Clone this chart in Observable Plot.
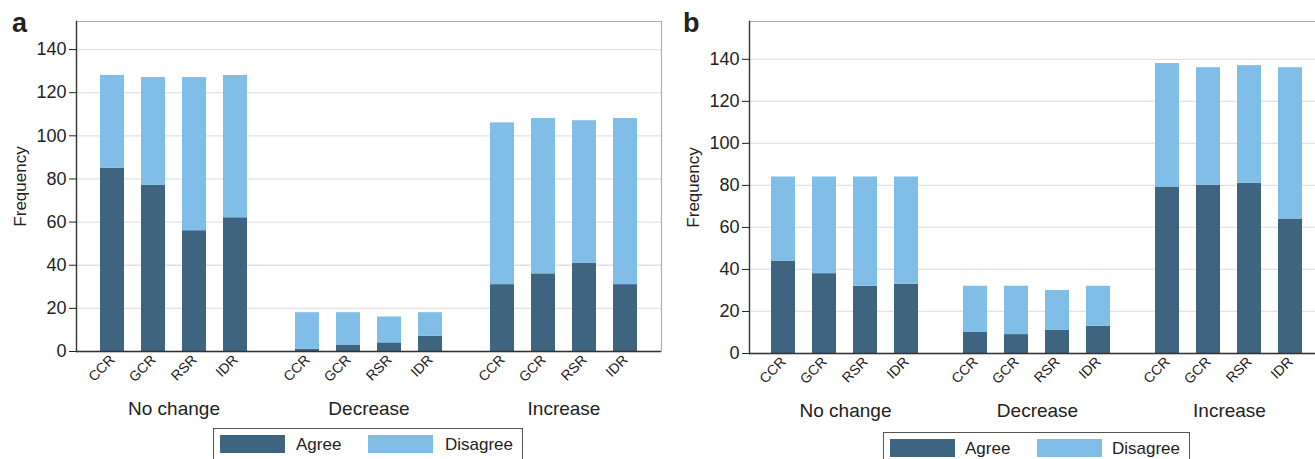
<!DOCTYPE html>
<html><head><meta charset="utf-8">
<script src="https://cdn.jsdelivr.net/npm/d3@7"></script>
<script src="https://cdn.jsdelivr.net/npm/@observablehq/plot@0.6"></script>
<style>
body{margin:0;width:1315px;height:459px;overflow:hidden;background:#fff;font-family:Arial,"Liberation Sans",sans-serif;color:#222;position:relative}
.panel{position:absolute;top:0}
.panel svg{max-width:none !important}
.tag{position:absolute;font-weight:bold;font-size:27px;line-height:1}
.legend{position:absolute;border:1px solid #555;height:40px;box-sizing:border-box;background:#fff}
.sw{position:absolute;height:18px;width:65px;top:6px}
.lt{position:absolute;font-size:17px;line-height:1;top:7px}
</style></head><body>
<div id="a" class="panel" style="left:0;width:672px"></div>
<div id="b" class="panel" style="left:672px;width:664px"></div>
<div class="tag" style="left:12px;top:10px">a</div>
<div class="tag" style="left:683px;top:10px">b</div>
<div id="legA" class="legend" style="left:213px;top:428px;width:310px"></div>
<div id="legB" class="legend" style="left:883px;top:432px;width:307px"></div>
<script>
const groups = ["No change", "Decrease", "Increase"];
const measures = ["CCR", "GCR", "RSR", "IDR"];
const responses = ["Agree", "Disagree"];
const colors = ["#3e6480", "#80bee8"];
const yTicks = [0, 20, 40, 60, 80, 100, 120, 140];

// panel a
const agreeA    = [[85, 77, 56, 62], [1, 3, 4, 7],   [31, 36, 41, 31]];
const disagreeA = [[43, 50, 71, 66], [17, 15, 12, 11], [75, 72, 66, 77]];
// panel b
const agreeB    = [[44, 38, 32, 33], [10, 9, 11, 13], [79, 80, 81, 64]];
const disagreeB = [[40, 46, 52, 51], [22, 23, 19, 19], [59, 56, 56, 72]];

function rows(agree, disagree) {
  const out = [];
  groups.forEach((g, i) => measures.forEach((m, j) => {
    out.push({group: g, measure: m, response: responses[0], value: agree[i][j]});
    out.push({group: g, measure: m, response: responses[1], value: disagree[i][j]});
  }));
  return out;
}

function chart({data, width, height, marginLeft, yMax, xOuter}) {
  return Plot.plot({
    width, height, marginLeft, marginRight: 10, marginTop: 21, marginBottom: 74,
    style: {fontFamily: 'Arial, "Liberation Sans", sans-serif', color: "#222", background: "transparent", overflow: "visible"},
    fx: {domain: groups, paddingInner: 0, paddingOuter: 0},
    x: {domain: measures, paddingInner: 0.41, paddingOuter: xOuter},
    y: {domain: [0, yMax]},
    color: {domain: responses, range: colors},
    marks: [
      Plot.gridY(yTicks, {stroke: "#e2e2e2", strokeOpacity: 1, strokeWidth: 1.3}),
      Plot.ruleY([yMax], {stroke: "#b0b0b0", strokeWidth: 1.2}),
      Plot.barY(data, Plot.stackY({fx: "group", x: "measure", y: "value", fill: "response"})),
      Plot.ruleY([0], {stroke: "#333", strokeWidth: 1.4}),
      Plot.frame({anchor: "left", facet: "super", stroke: "#333", strokeWidth: 1.4}),
      Plot.frame({anchor: "right", facet: "super", stroke: "#b0b0b0", strokeWidth: 1.2}),
      Plot.axisY(yTicks, {anchor: "left", tickSize: 7, tickPadding: 3, fontSize: 18, label: null}),
      Plot.text(["Frequency"], {frameAnchor: "left", textAnchor: "middle", rotate: -90, dx: -56, fontSize: 17, facet: "super"}),
      Plot.axisX({tickRotate: -45, tickSize: 0, tickPadding: 6, fontSize: 14, label: null}),
      Plot.axisFx({anchor: "bottom", tickSize: 0, tickPadding: 50, fontSize: 19, label: null})
    ]
  });
}

document.getElementById("a").append(chart({data: rows(agreeA, disagreeA), width: 672, height: 425, marginLeft: 75, yMax: 153, xOuter: 0.55}));
document.getElementById("b").append(chart({data: rows(agreeB, disagreeB), width: 664, height: 427, marginLeft: 76, yMax: 158, xOuter: 0.52}));

function legend(id, swLeft, txtLeft) {
  const el = document.getElementById(id);
  responses.forEach((r, i) => {
    const sw = document.createElement("div");
    sw.className = "sw"; sw.style.left = swLeft[i] + "px"; sw.style.background = colors[i];
    const t = document.createElement("div");
    t.className = "lt"; t.style.left = txtLeft[i] + "px"; t.textContent = r;
    el.append(sw, t);
  });
}
legend("legA", [6, 154], [82, 231]);
legend("legB", [6, 153], [81, 228]);
</script>
</body></html>
